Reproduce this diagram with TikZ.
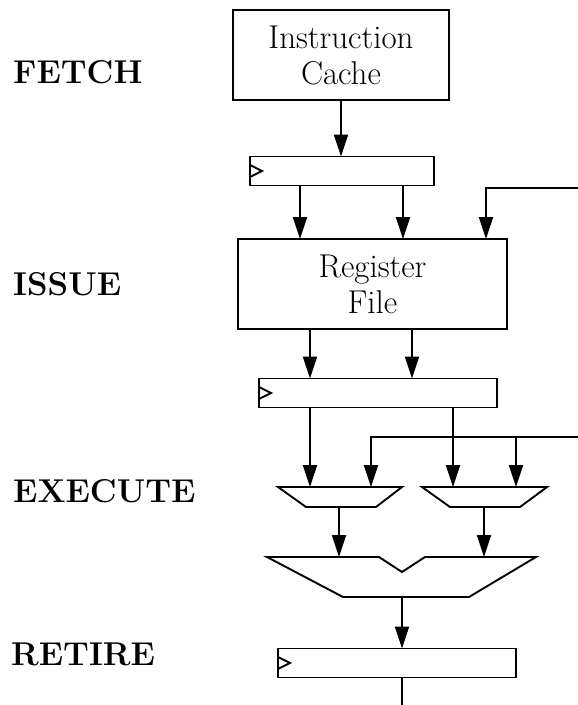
\documentclass[tikz,border=0pt]{standalone}
\usetikzlibrary{arrows.meta}
\begin{document}
\begin{tikzpicture}[x=1pt,y=-1pt,
  lw/.style={line width=1.9pt},
  arr/.style={lw,-{Triangle[length=22pt,width=14pt]}},
  box/.style={draw,lw,align=center,inner sep=0pt,outer sep=0pt,font=\fontsize{33}{36}\selectfont},
  regbar/.style={draw,lw,inner sep=0pt,outer sep=0pt,minimum height=29pt},
  stage/.style={anchor=base west,inner sep=0pt,font=\fontsize{33}{36}\selectfont\bfseries},
  shp/.style={draw,lw,line join=miter}
]
\useasboundingbox (0,0) rectangle (578,705);
% stage labels
\node[stage] (lf) at (13,83) {FETCH};
\node[stage] (li) at (13,295) {ISSUE};
\node[stage] (le) at (13,502) {EXECUTE};
\node[stage] (lr) at (11,665) {RETIRE};
% boxes
\node[box,minimum width=216pt,minimum height=90pt] (ic) at (341,55) {Instruction\\Cache};
\node[regbar,minimum width=184pt] (b1) at (342,171) {};
\node[box,minimum width=269pt,minimum height=90pt] (rf) at (372.5,284) {Register\\File};
\node[regbar,minimum width=238pt] (b2) at (378,393) {};
\node[regbar,minimum width=238pt] (b3) at (397,663) {};
% clock marks
\foreach \b in {b1,b2,b3}{
  \draw[lw] ([yshift=-6pt]\b.west) -- ([xshift=12pt]\b.west) -- ([yshift=6pt]\b.west);
}
% columns
\coordinate (xA) at (300,0);
\coordinate (xB) at (403,0);
\coordinate (xC) at (486,0);
\coordinate (xD) at (310,0);
\coordinate (xE) at (412,0);
\coordinate (xF) at (453,0);
\coordinate (xG) at (371,0);
\coordinate (xH) at (516,0);
\coordinate (xI) at (339,0);
\coordinate (xJ) at (484,0);
\coordinate (xK) at (402,0);
% execute units
\draw[shp] (278,487) coordinate (aL) -- (402,487) -- (376,507) -- (306,507) coordinate (aLb) -- cycle;
\draw[shp] (422,487) coordinate (aR) -- (547,487) -- (520,507) -- (450,507) coordinate (aRb) -- cycle;
\draw[shp] (267,557) coordinate (mx) -- (379,557) -- (402,572) -- (425,557) -- (536,557) -- (469,597) -- (343,597) coordinate (mxb) -- cycle;
% feedback ends
\coordinate (fb1) at (578,188);
\coordinate (fb2) at (578,437);
\coordinate (bot) at (402,705);
% connectors
\draw[arr] (ic.south) -- (b1.north -| ic.south);
\draw[arr] (b1.south -| xA) -- (rf.north -| xA);
\draw[arr] (b1.south -| xB) -- (rf.north -| xB);
\draw[arr] (fb1) -| (rf.north -| xC);
\draw[arr] (rf.south -| xD) -- (b2.north -| xD);
\draw[arr] (rf.south -| xE) -- (b2.north -| xE);
\draw[arr] (b2.south -| xD) -- (aL -| xD);
\draw[arr] (b2.south -| xF) -- (aR -| xF);
\draw[arr] (fb2) -| (aL -| xG);
\draw[arr] (fb2 -| xH) -- (aR -| xH);
\draw[arr] (aLb -| xI) -- (mx -| xI);
\draw[arr] (aRb -| xJ) -- (mx -| xJ);
\draw[arr] (mxb -| xK) -- (b3.north -| xK);
\draw[lw] (b3.south -| xK) -- (bot);
\end{tikzpicture}
\end{document}
